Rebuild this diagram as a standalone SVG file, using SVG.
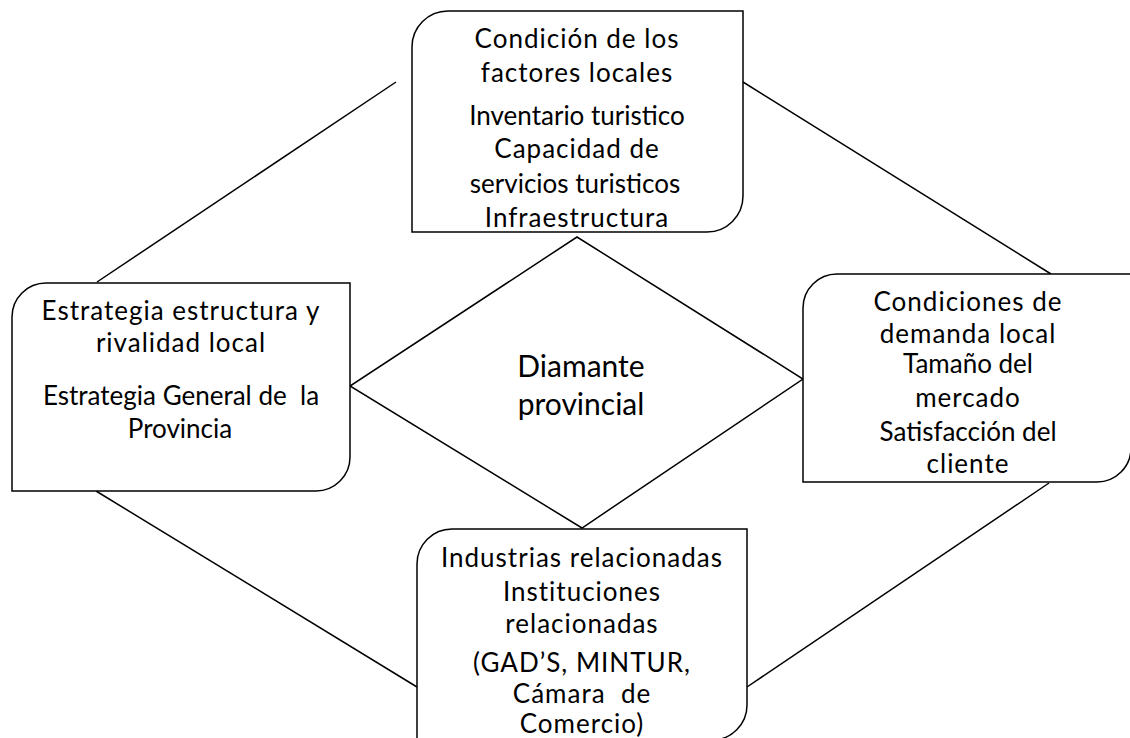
<svg xmlns="http://www.w3.org/2000/svg" width="1130" height="738" viewBox="0 0 1130 738">
<style>
.box{fill:#fff;stroke:#000;stroke-width:1.5}
.ln{fill:none;stroke:#000;stroke-width:1.5}
text{font-family:Lato,"Open Sans","Liberation Sans",sans-serif;font-size:26px;fill:#000;text-anchor:middle;white-space:pre;letter-spacing:1px}
.big{font-size:30px;letter-spacing:0}
.tight{letter-spacing:0}
</style>
<rect width="1130" height="738" fill="#fff"/>
<g id="connectors">
<line class="ln" x1="396" y1="82" x2="97" y2="282"/>
<line class="ln" x1="743" y1="82" x2="1051" y2="274"/>
<line class="ln" x1="96" y1="491" x2="417" y2="687"/>
<line class="ln" x1="1049" y1="483" x2="747" y2="687"/>
</g>
<g id="diamond">
<polygon class="box" points="577,237 803,379 582,528 350,386"/>
<text class="big" x="581" y="377">Diamante</text>
<text class="big" x="581" y="415">provincial</text>
</g>
<g id="top">
<path class="box" d="M412,232 V47 A36,36 0 0 1 448,11 H743 V196 A36,36 0 0 1 707,232 Z"/>
<text x="577" y="48">Condición de los</text>
<text x="577" y="82">factores locales</text>
<text class="tight" x="577" y="125">Inventario turistico</text>
<text x="577" y="158">Capacidad de</text>
<text class="tight" x="575" y="193">servicios turisticos</text>
<text x="577" y="227">Infraestructura</text>
</g>
<g id="left">
<path class="box" d="M12,491 V317 A34,34 0 0 1 46,283 H350 V457 A34,34 0 0 1 316,491 Z"/>
<text x="181" y="320">Estrategia estructura y</text>
<text x="181" y="352">rivalidad local</text>
<text class="tight" x="181" y="405" xml:space="preserve">Estrategia General de  la</text>
<text class="tight" x="180" y="438">Provincia</text>
</g>
<g id="right">
<path class="box" d="M803,482 V308 A34,34 0 0 1 837,274 H1131 V448 A34,34 0 0 1 1097,482 Z"/>
<text x="968" y="311">Condiciones de</text>
<text x="968" y="343">demanda local</text>
<text class="tight" x="968" y="373">Tamaño del</text>
<text x="968" y="407">mercado</text>
<text class="tight" x="968" y="441">Satisfacción del</text>
<text x="968" y="473">cliente</text>
</g>
<g id="bottom">
<path class="box" d="M417,740 V564 A35,35 0 0 1 452,529 H747 V705 A35,35 0 0 1 712,740 Z"/>
<text x="582" y="567">Industrias relacionadas</text>
<text x="582" y="601">Instituciones</text>
<text x="582" y="633">relacionadas</text>
<text x="582" y="672">(GAD’S, MINTUR,</text>
<text x="582" y="703" xml:space="preserve">Cámara  de</text>
<text x="582" y="733">Comercio)</text>
</g>
</svg>
